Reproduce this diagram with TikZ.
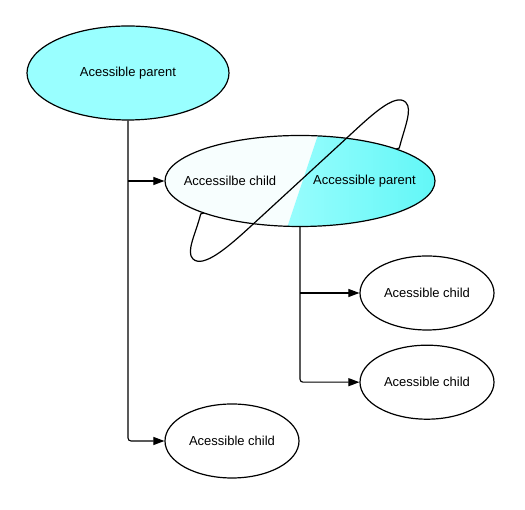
\documentclass[tikz,border=0pt]{standalone}
\usepackage{fontspec}
\setmainfont{Liberation Sans}
\usetikzlibrary{arrows.meta,positioning,shapes.geometric}
\definecolor{ourcyan}{RGB}{153,255,255}
\definecolor{ourpale}{RGB}{247,254,254}
\definecolor{ourcyanlight}{RGB}{152,253,253}
\definecolor{ourcyandeep}{RGB}{98,247,247}

\begin{document}
\begin{tikzpicture}[
  x=1pt, y=1pt,
  font=\fontsize{13}{15}\selectfont,
  parentnode/.style={draw, ellipse, line width=1.2pt, inner sep=0pt, minimum width=202pt, minimum height=94pt, fill=ourcyan},
  childnode/.style={draw, ellipse, line width=1.2pt, inner sep=0pt, minimum width=134pt, minimum height=74pt, fill=white},
  splitnode/.style={draw, ellipse, line width=1.2pt, inner sep=0pt, minimum width=270pt, minimum height=91pt},
  orbit/.style={line width=1.2pt},
  arrow/.style={-{Triangle[length=11pt,width=8pt]}, line width=1.1pt, rounded corners=3pt}
]
\useasboundingbox (0,0) rectangle (525,510);
\coordinate (lo-c) at (200.7,296);
\coordinate (lo-t) at (192.8,251.2);
\coordinate (lo-a) at (254,286.7);
\coordinate (up-c) at (399.3,362);
\coordinate (up-t) at (405.8,407.6);
\coordinate (up-a) at (346,371.3);
\draw[orbit] (lo-c) .. controls +(256:20) and +(135:10) .. (lo-t)
  .. controls +(-45:15) and +(222.7:32) .. (lo-a) -- (up-a)
  .. controls +(42.7:32) and +(135:15) .. (up-t)
  .. controls +(-45:10) and +(76:20) .. (up-c) -- cycle;

\node[splitnode, path picture={
  \fill[ourpale] (path picture bounding box.south west) rectangle (path picture bounding box.north east);
  \shade[left color=ourcyanlight, right color=ourcyandeep]
    ([shift={(19.3,50)}]path picture bounding box.center) -- ([shift={(-14,-50)}]path picture bounding box.center)
    -- (path picture bounding box.south east) -- (path picture bounding box.north east) -- cycle;
}] (mid) at (300,329) {};
\node (childtext) at ([xshift=-70pt]mid.center) {Accessilbe child};
\node (parenttext) at ([xshift=64.5pt]mid.center) {Accessible parent};
\draw[orbit] (lo-a) -- (up-a);

\node[parentnode] (parent) at (128,437) {Acessible parent};
\node[childnode] (kidone) at (427,217) {Acessible child};
\node[childnode, below=14pt of kidone] (kidtwo) {Acessible child};
\node[childnode] (kidlow) at (232,69) {Acessible child};

\draw[arrow] (parent.south) |- (kidlow.west);
\draw[arrow] (parent.south |- mid.west) -- (mid.west);
\draw[arrow] (mid.south) |- (kidtwo.west);
\draw[arrow] (mid.south |- kidone.west) -- (kidone.west);
\end{tikzpicture}
\end{document}
